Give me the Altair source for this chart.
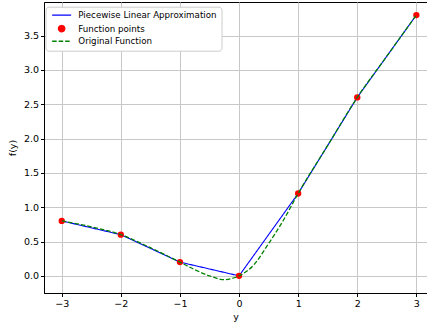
import altair as alt
import pandas as pd

# Function points (sample points)
pts_x = [-3, -2, -1, 0, 1, 2, 3]
pts_y = [0.8, 0.6, 0.2, 0.0, 1.2, 2.6, 3.8]

# Original function, values
orig_x = [-3, -2.5, -2, -1.5, -1, -0.75, -0.5, -0.25, 0, 0.25, 0.5, 0.75, 1, 1.5, 2, 2.5, 3]
orig_y = [0.80, 0.715, 0.60, 0.41, 0.20, 0.09, 0.0, -0.055, 0.0, 0.16, 0.47, 0.81, 1.20, 1.90, 2.60, 3.20, 3.80]

names = ["Piecewise Linear Approximation", "Function points", "Original Function"]
colors = ["#0000ff", "#ff0000", "#008000"]

lin = pd.DataFrame({"x": pts_x, "y": pts_y, "series": names[0]})
pts = pd.DataFrame({"x": pts_x, "y": pts_y, "series": names[1]})
orig = pd.DataFrame({"x": orig_x, "y": orig_y, "series": names[2]})

xs = alt.Scale(domain=[-3.3, 3.18], nice=False, zero=False)
ys = alt.Scale(domain=[-0.25, 3.99], nice=False, zero=False)

xax = alt.Axis(values=pts_x, title="y", format="d")
yax = alt.Axis(values=[0, 0.5, 1, 1.5, 2, 2.5, 3, 3.5], title="f(y)", format=".1f")

legend = alt.Legend(title=None, orient="none", legendX=1.5, legendY=4.7,
                    fillColor="white", strokeColor="#cccccc", cornerRadius=3,
                    padding=4, labelFontSize=8.7, labelFont="DejaVu Sans",
                    labelColor="black", rowPadding=1.6, symbolStrokeWidth=1.3,
                    symbolSize=40, symbolOffset=7.8, labelOffset=12.3)

seg = "M-3,0L3,0"
color = alt.Color("series:N", scale=alt.Scale(domain=names, range=colors), legend=legend)
dash = alt.StrokeDash("series:N", scale=alt.Scale(domain=names, range=[[1, 0], [1, 0], [4.5, 2]]), legend=legend)
shape = alt.Shape("series:N", scale=alt.Scale(domain=names, range=[seg, "circle", seg]), legend=legend)

x = alt.X("x:Q", scale=xs, axis=xax)
y = alt.Y("y:Q", scale=ys, axis=yax)

l1 = alt.Chart(lin).mark_line(strokeWidth=1.1, clip=True).encode(x=x, y=y, color=color, strokeDash=dash)
l2 = alt.Chart(pts).mark_point(filled=True, opacity=1, size=40, clip=True).encode(
    x=x, y=y, color=color, shape=shape)
l3 = alt.Chart(orig).mark_line(strokeWidth=1.3, interpolate="monotone", clip=True).encode(
    x=x, y=y, color=color, strokeDash=dash)

chart = alt.layer(l1, l2, l3).properties(
    width=383, height=291,
    autosize=alt.AutoSizeParams(type="none"),
    padding={"left": 44, "top": 2, "right": 0, "bottom": 31},
).configure_view(stroke="black", strokeWidth=1).configure_axis(
    domainColor="black", domainWidth=1, tickColor="black", tickSize=3.5, tickWidth=1,
    labelFontSize=9.5, labelFont="DejaVu Sans", labelColor="black", labelPadding=2,
    titleFontSize=9.5, titleFont="DejaVu Sans", titleFontWeight="normal", titleColor="black",
    gridColor="#c8c8c8", gridWidth=1,
).configure_axisX(titlePadding=3).configure_axisY(titlePadding=6)

chart.save("out.html", embed_options={"renderer": "svg", "actions": False})
